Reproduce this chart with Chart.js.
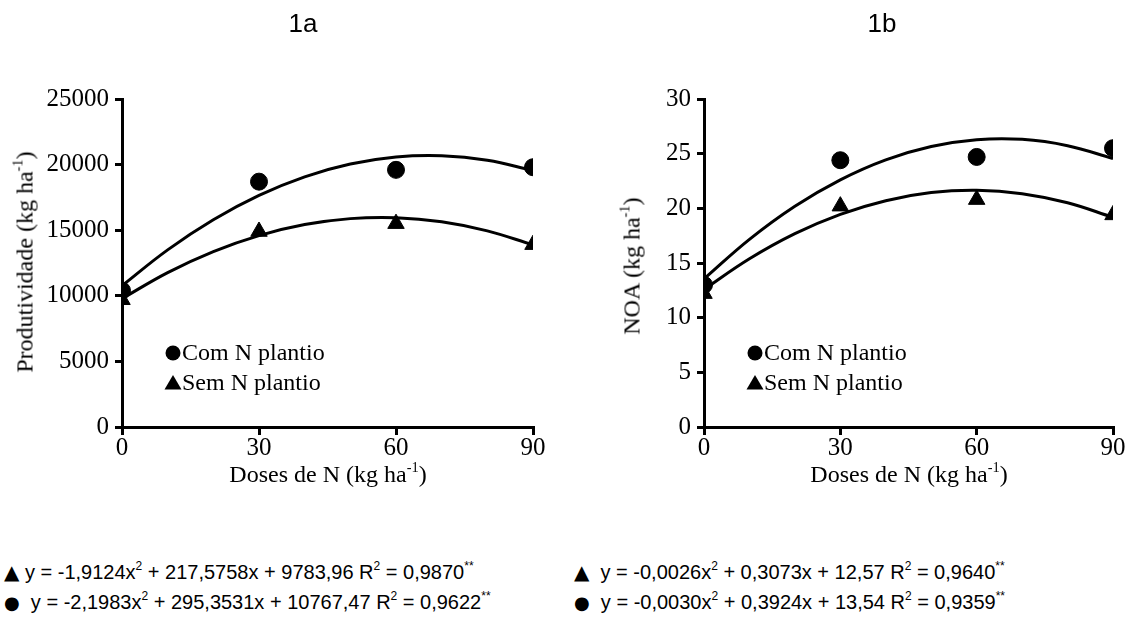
<!DOCTYPE html>
<html>
<head>
<meta charset="utf-8">
<script src="https://cdn.jsdelivr.net/npm/chart.js@4"></script>
<style>
  html, body { margin:0; padding:0; background:#fff; }
  body { width:1132px; height:623px; position:relative; overflow:hidden; }
  .cv { position:absolute; top:0; width:566px; height:500px; }
  .t { position:absolute; color:#000; white-space:nowrap; }
  .title { font-family:"Liberation Sans", Arial, sans-serif; font-size:26px; transform:translateX(-50%); }
  .axt { font-family:"Liberation Serif", "Times New Roman", serif; font-size:24px; }
  .axt sup { font-size:0.6em; vertical-align:0.7em; line-height:0; }
  .xt { transform:translateX(-50%); }
  .yt { transform:translate(-50%,-50%) rotate(-90deg); }
  .eq { font-family:"Liberation Sans", Arial, sans-serif; font-size:20px; line-height:22px; }
  .eq sup { font-size:0.6em; vertical-align:0.75em; line-height:0; }
  .mk { font-family:"DejaVu Sans", sans-serif; }
</style>
</head>
<body>
<div class="cv" style="left:0"><canvas id="ca"></canvas></div>
<div class="cv" style="left:566px"><canvas id="cb"></canvas></div>

<div class="t title" style="left:303px; top:8px;">1a</div>
<div class="t title" style="left:882px; top:8px;">1b</div>

<div class="t axt xt" style="left:328px; top:461px;">Doses de N (kg ha<sup>-1</sup>)</div>
<div class="t axt xt" style="left:909px; top:461px;">Doses de N (kg ha<sup>-1</sup>)</div>
<div class="t axt yt" style="left:25px; top:262px;">Produtividade (kg ha<sup>-1</sup>)</div>
<div class="t axt yt" style="left:632px; top:266px;">NOA (kg ha<sup>-1</sup>)</div>

<div class="t eq" style="left:4px; top:561px;"><span class="mk">▲</span> y = -1,9124x<sup>2</sup> + 217,5758x + 9783,96 R<sup>2</sup> = 0,9870<sup>**</sup></div>
<div class="t eq" style="left:4px; top:591px;"><span class="mk" style="font-size:18px">●</span>&nbsp; y = -2,1983x<sup>2</sup> + 295,3531x + 10767,47 R<sup>2</sup> = 0,9622<sup>**</sup></div>
<div class="t eq" style="left:574px; top:561px;"><span class="mk">▲</span>&nbsp; y = -0,0026x<sup>2</sup> + 0,3073x + 12,57 R<sup>2</sup> = 0,9640<sup>**</sup></div>
<div class="t eq" style="left:574px; top:591px;"><span class="mk" style="font-size:18px">●</span>&nbsp; y = -0,0030x<sup>2</sup> + 0,3924x + 13,54 R<sup>2</sup> = 0,9359<sup>**</sup></div>

<script>
// ---- data ----
const doses = [0, 30, 60, 90];
const seriesLabels = ["Com N plantio", "Sem N plantio"];

// 1a: Produtividade (kg ha-1)
const prodCom = [10400, 18700, 19600, 19800];
const prodSem = [9700, 14900, 15500, 13900];
// 1b: NOA (kg ha-1)
const noaCom = [13.0, 24.4, 24.7, 25.5];
const noaSem = [12.2, 20.2, 20.8, 19.4];

// fitted curves
const curveX = [0, 10, 20, 30, 40, 50, 60, 70, 80, 90];
const prodComCurve = [10767, 13501, 15795, 17650, 19064, 20039, 20575, 20671, 20327, 19543];
const prodSemCurve = [9784, 11769, 13371, 14590, 15427, 15882, 15954, 15644, 14951, 13875];
const noaComCurve = [13.54, 17.16, 20.19, 22.61, 24.44, 25.66, 26.28, 26.31, 25.73, 24.56];
const noaSemCurve = [12.57, 15.38, 17.68, 19.45, 20.70, 21.44, 21.65, 21.34, 20.51, 19.17];

const xTicks = [0, 30, 60, 90];
const prodTicks = [0, 5000, 10000, 15000, 20000, 25000];
const noaTicks = [0, 5, 10, 15, 20, 25, 30];

// ---- helpers ----
const pts = (xs, ys) => xs.map((x, i) => ({x: x, y: ys[i]}));
const serif = "'Liberation Serif', 'Times New Roman', serif";

const legendPlugin = {
  id: 'innerLegend',
  afterDatasetsDraw(chart) {
    const ctx = chart.ctx, a = chart.chartArea;
    const x0 = a.left + 51;
    const rows = [353, 383];
    ctx.save();
    ctx.fillStyle = '#000';
    ctx.beginPath(); ctx.arc(x0, rows[0], 7.5, 0, Math.PI * 2); ctx.fill();
    ctx.beginPath();
    ctx.moveTo(x0, rows[1] - 8); ctx.lineTo(x0 + 8.5, rows[1] + 6.5); ctx.lineTo(x0 - 8.5, rows[1] + 6.5);
    ctx.closePath(); ctx.fill();
    ctx.font = "24px " + serif;
    ctx.textBaseline = 'middle';
    ctx.fillText(seriesLabels[0], x0 + 9, rows[0] + 1);
    ctx.fillText(seriesLabels[1], x0 + 9, rows[1] + 1);
    ctx.restore();
  }
};

function makeChart(id, com, sem, comC, semC, yTicks, padRight, yAxisW) {
  const yMax = yTicks[yTicks.length - 1];
  return new Chart(document.getElementById(id), {
    type: 'scatter',
    data: {
      datasets: [
        { label: seriesLabels[0], data: pts(doses, com), pointStyle: 'circle', pointRadius: 8.5,
          backgroundColor: '#000', borderColor: '#000', showLine: false },
        { label: seriesLabels[1], data: pts(doses, sem), pointStyle: 'triangle', pointRadius: 9.5,
          backgroundColor: '#000', borderColor: '#000', showLine: false },
        { label: 'curve com', data: pts(curveX, comC), showLine: true, pointRadius: 0,
          borderColor: '#000', borderWidth: 3, tension: 0.4, fill: false },
        { label: 'curve sem', data: pts(curveX, semC), showLine: true, pointRadius: 0,
          borderColor: '#000', borderWidth: 3, tension: 0.4, fill: false }
      ]
    },
    options: {
      responsive: false,
      animation: false,
      devicePixelRatio: 1,
      layout: { padding: { left: 0, top: 99, right: padRight, bottom: 0 } },
      plugins: { legend: { display: false }, tooltip: { enabled: false } },
      scales: {
        x: {
          type: 'linear', min: 0, max: 90,
          afterBuildTicks: s => { s.ticks = xTicks.map(v => ({value: v})); },
          afterFit: s => { s.height = 73; },
          ticks: { color: '#000', font: { family: serif, size: 25 }, padding: -2, maxRotation: 0,
                   callback: v => String(v) },
          grid: { drawOnChartArea: false, color: '#000', lineWidth: 3, tickLength: 8 },
          border: { color: '#000', width: 3 }
        },
        y: {
          type: 'linear', min: 0, max: yMax,
          afterBuildTicks: s => { s.ticks = yTicks.map(v => ({value: v})); },
          afterFit: s => { s.width = yAxisW; },
          ticks: { color: '#000', font: { family: serif, size: 25 }, padding: 6,
                   callback: v => String(v) },
          grid: { drawOnChartArea: false, color: '#000', lineWidth: 3, tickLength: 7 },
          border: { color: '#000', width: 3 }
        }
      }
    },
    plugins: [legendPlugin]
  });
}

function sizeCanvas(id) {
  const c = document.getElementById(id);
  c.width = 566; c.height = 500;
  c.style.width = '566px'; c.style.height = '500px';
}
sizeCanvas('ca'); sizeCanvas('cb');
makeChart('ca', prodCom, prodSem, prodComCurve, prodSemCurve, prodTicks, 33, 122);
makeChart('cb', noaCom, noaSem, noaComCurve, noaSemCurve, noaTicks, 19, 138);
</script>
</body>
</html>
